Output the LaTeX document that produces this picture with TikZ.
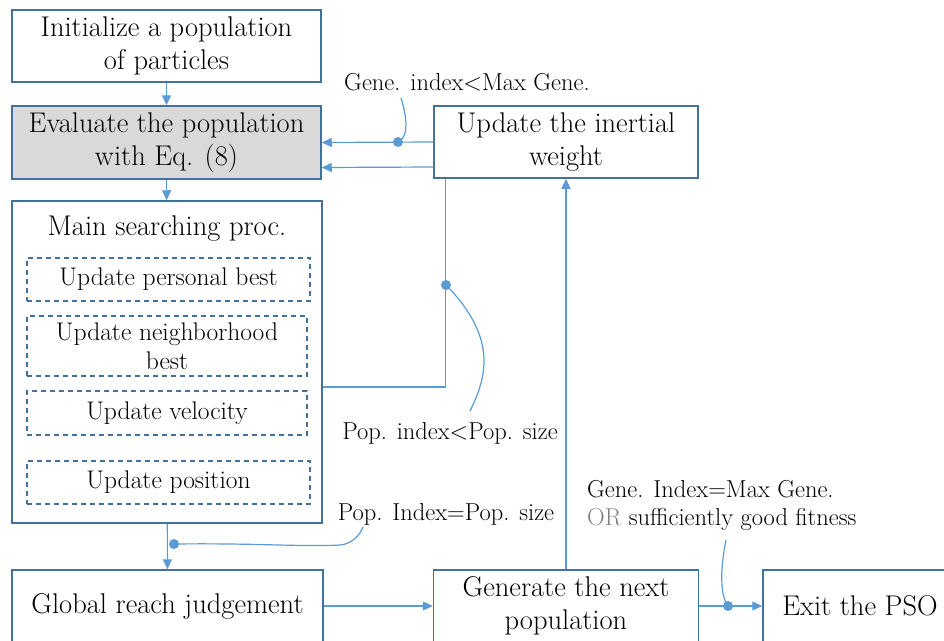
\documentclass[tikz,border=0pt]{standalone}
\usetikzlibrary{arrows.meta}
\definecolor{boxblue}{HTML}{41719C}
\definecolor{linkblue}{HTML}{5B9BD5}
\begin{document}
\begin{tikzpicture}[x=1pt, y=-1pt,
    box/.style={draw=boxblue, line width=1.5pt, align=center, inner sep=0pt,
        font=\fontsize{28.5}{33}\selectfont},
    subbox/.style={draw=boxblue, line width=1.2pt, dash pattern=on 5pt off 4pt,
        align=center, inner sep=0pt, font=\fontsize{25.5}{29}\selectfont},
    link/.style={draw=linkblue, line width=1.2pt},
    arr/.style={link, -{Triangle[length=10pt, width=9pt]}},
    note/.style={align=left, inner sep=0pt, font=\fontsize{24.5}{28}\selectfont},
    dot/.style={fill=linkblue}]
    \useasboundingbox (0,0) rectangle (944,640);
    \node[box, minimum width=309, minimum height=72] (init) at (166.5,46) {Initialize a population\\of particles};
    \node[box, fill=black!15, minimum width=309, minimum height=73] (eval) at (166.5,142.5) {Evaluate the population\\with Eq. (8)};
    \node[box, minimum width=310, minimum height=322] (main) at (167,362) {};
    \node[box, draw=none] (title) at (167,229) {Main searching proc.};
    \node[subbox, minimum width=283, minimum height=43] (pbest) at (168.5,279.5) {Update personal best};
    \node[subbox, minimum width=280, minimum height=60] (nbest) at (167,346) {Update neighborhood\\best};
    \node[subbox, minimum width=280, minimum height=44] (vel) at (167,413) {Update velocity};
    \node[subbox, minimum width=283, minimum height=43] (pos) at (168.5,482.5) {Update position};
    \node[box, minimum width=264, minimum height=72] (inertia) at (566,142) {Update the inertial\\weight};
    \node[box, minimum width=311, minimum height=72] (judge) at (167.5,606) {Global reach judgement};
    \node[box, minimum width=265, minimum height=72] (nextgen) at (566,606) {Generate the next\\population};
    \node[box, minimum width=194, minimum height=72] (exit) at (860,606) {Exit the PSO};
    % condition labels
    \node[note] (genlt) at (467,82) {Gene. index<Max Gene.};
    \node[note] (poplt) at (450,433) {Pop. index<Pop. size};
    \node[note] (popeq) at (446,514) {Pop. Index=Pop. size};
    \node[note, anchor=west] (geneq) at (587,505) {Gene. Index=Max Gene.\\{\color{black!50}OR} sufficiently good fitness};
    % connectors
    \draw[arr] (init) -- (eval);
    \draw[arr] (eval) -- (main);
    \draw[arr] (inertia.west) -- (eval.east);
    \draw[arr] ([yshift=-25pt]inertia.west) -- ([yshift=-25pt]eval.east);
    \draw[link] ([yshift=-25pt]main.east) -| ([xshift=12pt]inertia.south west);
    \draw[arr] (nextgen) -- (inertia);
    \draw[arr] (main) -- (judge);
    \draw[arr] (judge) -- (nextgen);
    \draw[arr] (nextgen) -- (exit);
    % callouts
    \coordinate (gdot) at (398,142);
    \coordinate (pdot) at (446,285);
    \coordinate (qdot) at (174,544);
    \coordinate (edot) at (728,606);
    \draw[link] (401,98) .. controls (408,120) and (408,138) .. (gdot);
    \draw[link] (pdot) .. controls (500,340) and (485,380) .. (470,411);
    \draw[link] (qdot) .. controls (260,543) and (300,547) .. (340,545) .. controls (352,544) and (360,535) .. (363,527);
    \draw[link] (726,540) .. controls (720,570) and (720,595) .. (edot);
    \foreach \d in {gdot,pdot,qdot,edot}
        \fill[dot] (\d) circle (5pt);
\end{tikzpicture}
\end{document}
